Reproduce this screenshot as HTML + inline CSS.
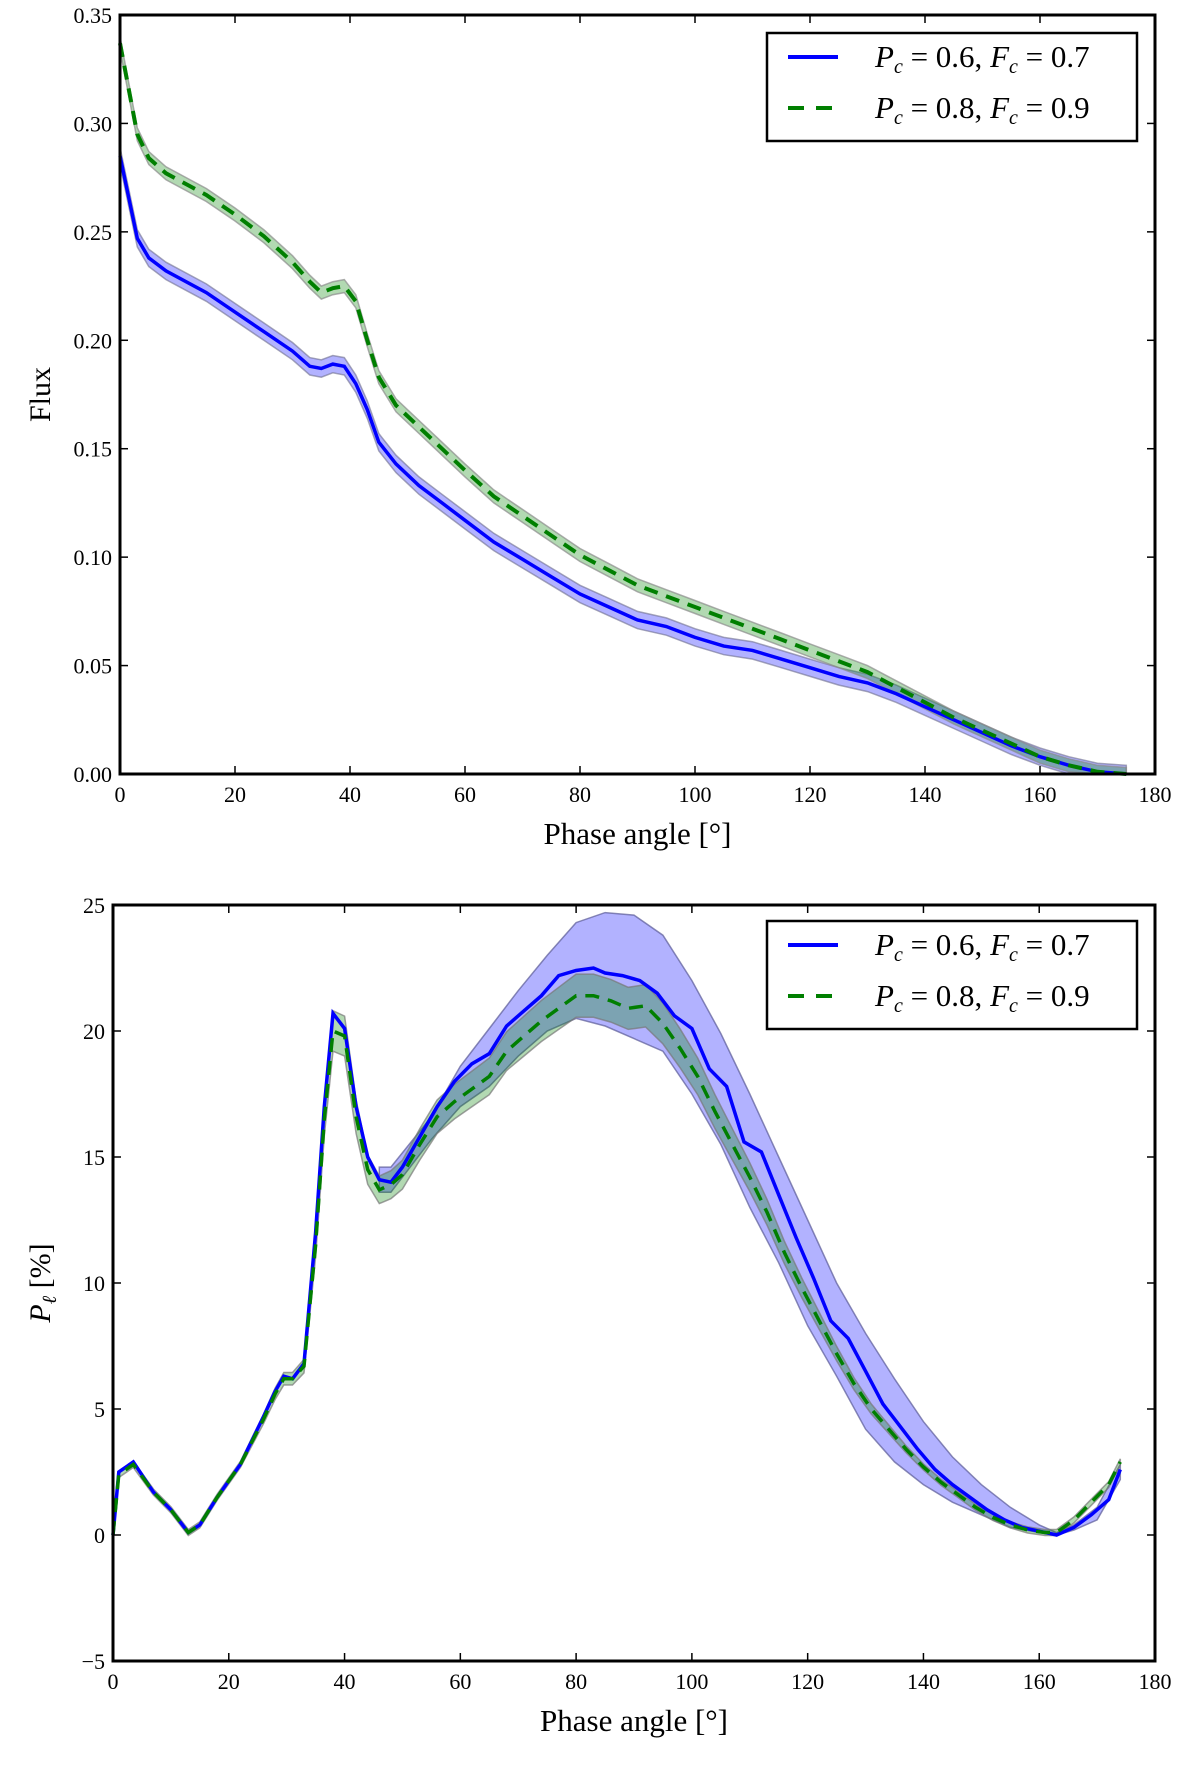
<!DOCTYPE html>
<html><head><meta charset="utf-8">
<style>
html,body{margin:0;padding:0;background:#fff;}
svg{display:block;font-family:"Liberation Serif",serif;}
</style></head>
<body>
<svg id="fig" width="1200" height="1767" viewBox="0 0 1200 1767" xmlns="http://www.w3.org/2000/svg"></svg>
<script>
// ---- Flux panel data ----
const fluxX = [0,3,5,8,15,20,25,30,33,35,37,39,41,43,45,48,52,56,60,65,70,75,80,85,90,95,100,105,110,115,120,125,130,135,140,145,150,155,160,165,170,175];
const fluxBlue = [0.285,0.247,0.238,0.232,0.222,0.213,0.204,0.195,0.188,0.187,0.189,0.188,0.180,0.168,0.153,0.143,0.133,0.125,0.117,0.107,0.099,0.091,0.083,0.077,0.071,0.068,0.063,0.059,0.057,0.053,0.049,0.045,0.042,0.037,0.031,0.025,0.019,0.013,0.008,0.004,0.001,0.0];
const fluxGreen = [0.337,0.295,0.284,0.277,0.267,0.258,0.248,0.236,0.227,0.222,0.224,0.225,0.218,0.200,0.183,0.170,0.160,0.150,0.140,0.128,0.119,0.110,0.101,0.094,0.087,0.082,0.077,0.072,0.067,0.062,0.057,0.052,0.047,0.040,0.033,0.026,0.020,0.014,0.008,0.004,0.001,0.0];
const fluxBlueErr = 0.004;
const fluxGreenErr = 0.003;
const fluxYTicks = [0,0.05,0.10,0.15,0.20,0.25,0.30,0.35];
const fluxYLabels = ["0.00","0.05","0.10","0.15","0.20","0.25","0.30","0.35"];
const xTicks = [0,20,40,60,80,100,120,140,160,180];

// ---- Polarization panel data ----
const polBlueX = [0,1,3.5,7,10,13,15,18,22,26,28,29.5,31,33,35,36.5,38,40,42,44,46,48,50,53,56,59,62,65,68,71,74,77,80,83,85,88,91,94,97,100,103,106,109,112,115,118,121,124,127,130,133,136,139,142,145,148,151,154,157,160,163,166,169,172,174];
const polBlue = [0,2.5,2.9,1.7,1.0,0.1,0.4,1.5,2.8,4.7,5.7,6.3,6.2,6.8,12,17,20.7,20.1,17,15,14.1,14.0,14.6,15.8,17,18,18.7,19.1,20.2,20.8,21.4,22.2,22.4,22.5,22.3,22.2,22.0,21.5,20.6,20.1,18.5,17.8,15.6,15.2,13.5,11.8,10.2,8.5,7.8,6.5,5.2,4.3,3.4,2.6,2.0,1.5,1.0,0.6,0.3,0.15,0.0,0.3,0.8,1.4,2.6];
const polGreenX = [0,1,3.5,7,10,13,15,18,22,26,28,29.5,31,33,35,36.5,38,40,42,44,46,48,50,53,56,59,62,65,68,71,74,77,80,83,86,89,92,95,98,101,104,107,110,113,116,119,122,125,128,131,134,137,140,143,146,149,152,155,158,161,163,166,169,172,174];
const polGreen = [0,2.4,2.8,1.7,1.0,0.1,0.4,1.5,2.8,4.6,5.6,6.2,6.2,6.7,11.5,16.5,20.0,19.8,16.6,14.5,13.7,13.9,14.3,15.5,16.6,17.2,17.7,18.2,19.2,19.8,20.4,20.9,21.4,21.4,21.2,20.9,21.0,20.3,19.3,18.2,16.8,15.5,14.2,12.8,11.2,9.8,8.5,7.2,6.0,5.0,4.2,3.4,2.7,2.1,1.6,1.1,0.7,0.4,0.2,0.1,0.1,0.6,1.3,2.0,2.9];
const polBandX = [46,48,55,60,65,70,75,80,85,90,95,100,105,110,115,120,125,130,135,140,145,150,155,160,163,166,170,174];
const polBlueUpper = [14.6,14.6,16.6,18.6,20.1,21.6,23.0,24.3,24.7,24.6,23.8,22.0,19.9,17.5,15.0,12.5,10.0,8.0,6.2,4.5,3.1,2.0,1.1,0.4,0.1,0.4,1.1,2.8];
const polBlueLower = [13.6,13.6,15.7,17.0,17.8,19.0,20.0,20.5,20.2,19.7,19.2,17.5,15.5,13.0,10.8,8.3,6.3,4.2,2.9,2.0,1.3,0.8,0.3,0.1,0.0,0.2,0.6,2.2];
const polGreenRelErr = 0.04;

const polYTicks = [-5,0,5,10,15,20,25];
const polYLabels = ["\u22125","0","5","10","15","20","25"];

const NS = "http://www.w3.org/2000/svg";
const svg = document.getElementById('fig');
function mk(tag, attrs, parent){
  const e = document.createElementNS(NS, tag);
  for (const k in attrs) e.setAttribute(k, attrs[k]);
  (parent||svg).appendChild(e);
  return e;
}
function pathFrom(xs, ys, sx, sy){
  return xs.map((x,i)=>(i?'L':'M')+sx(x).toFixed(1)+','+sy(ys[i]).toFixed(1)).join(' ');
}
function bandPath(xs, lo, hi, sx, sy){
  let d = xs.map((x,i)=>(i?'L':'M')+sx(x).toFixed(1)+','+sy(hi[i]).toFixed(1)).join(' ');
  for (let i=xs.length-1;i>=0;i--) d += ' L'+sx(xs[i]).toFixed(1)+','+sy(lo[i]).toFixed(1);
  return d+' Z';
}

function panel(cfg){
  const {L,R,T,B,ymin,ymax,yTicks,yLabels,ylabel,name} = cfg;
  const sx = v => L + (v-0)/(180-0)*(R-L);
  const sy = v => B - (v-ymin)/(ymax-ymin)*(B-T);
  const g = mk('g',{});
  
  
  cfg.draw(g, sx, sy);
  const fr = mk('rect',{x:L,y:T,width:R-L,height:B-T,fill:'none',stroke:'#000','stroke-width':3},g);
  
  
  xTicks.forEach(t=>{
    const x = sx(t);
    mk('line',{x1:x,y1:B,x2:x,y2:B-8,stroke:'#000','stroke-width':1.5},g);
    mk('line',{x1:x,y1:T,x2:x,y2:T+8,stroke:'#000','stroke-width':1.5},g);
    const tx = mk('text',{x:x,y:B+28,'font-size':22,'text-anchor':'middle'},g);
    tx.textContent = t;
    
    
  });
  yTicks.forEach((t,i)=>{
    const y = sy(t);
    mk('line',{x1:L,y1:y,x2:L+8,y2:y,stroke:'#000','stroke-width':1.5},g);
    mk('line',{x1:R,y1:y,x2:R-8,y2:y,stroke:'#000','stroke-width':1.5},g);
    const ty = mk('text',{x:L-8,y:y+8,'font-size':22,'text-anchor':'end'},g);
    ty.textContent = yLabels[i];
    
    
  });
  const xl = mk('text',{x:(L+R)/2,y:B+70,'font-size':31,'text-anchor':'middle'},g);
  xl.textContent = 'Phase angle [\u00b0]';
  
  
  const yl = mk('text',{x:0,y:0,'font-size':30,'text-anchor':'middle',transform:'translate('+(cfg.ylx)+','+((T+B)/2)+') rotate(-90)'},g);
  yl.innerHTML = ylabel;
  
  
  const lg = mk('g',{},g);
  
  
  const lx = cfg.legX, ly = cfg.legY;
  mk('rect',{x:lx,y:ly,width:370,height:108,fill:'#fff',stroke:'#000','stroke-width':2.5},lg);
  const rows = [
    {c:'#0000ff',dash:null,txt:['0.6','0.7']},
    {c:'#007f00',dash:'16,12',txt:['0.8','0.9']}
  ];
  rows.forEach((r,i)=>{
    const yy = ly+24+i*51;
    const ln = mk('line',{x1:lx+21,y1:yy,x2:lx+71,y2:yy,stroke:r.c,'stroke-width':4},lg);
    if (r.dash) ln.setAttribute('stroke-dasharray', r.dash);
    
    
    const t = mk('text',{x:lx+108,y:yy+10,'font-size':31},lg);
    t.innerHTML = '<tspan font-style="italic">P</tspan><tspan font-style="italic" font-size="20" dy="6">c</tspan><tspan dy="-6"> = '+r.txt[0]+', </tspan><tspan font-style="italic">F</tspan><tspan font-style="italic" font-size="20" dy="6">c</tspan><tspan dy="-6"> = '+r.txt[1]+'</tspan>';
    
    
  });
}

panel({name:'flux-panel',L:120,R:1155,T:15,B:774,ymin:0,ymax:0.35,yTicks:fluxYTicks,yLabels:fluxYLabels,
  ylabel:'Flux', ylx:50, legX:767, legY:33,
  draw:(g,sx,sy)=>{
    const bHi = fluxBlue.map(v=>v+fluxBlueErr), bLo = fluxBlue.map(v=>Math.max(0,v-fluxBlueErr));
    const gHi = fluxGreen.map(v=>v+fluxGreenErr), gLo = fluxGreen.map(v=>Math.max(0,v-fluxGreenErr));
    const b1 = mk('path',{d:bandPath(fluxX,bLo,bHi,sx,sy),fill:'rgba(0,0,255,0.3)',stroke:'rgba(110,110,140,0.6)','stroke-width':1.5},g);
    
    
    const b2 = mk('path',{d:bandPath(fluxX,gLo,gHi,sx,sy),fill:'rgba(0,128,0,0.3)',stroke:'rgba(140,140,140,0.7)','stroke-width':1.5},g);
    
    
    const l1 = mk('path',{d:pathFrom(fluxX,fluxBlue,sx,sy),fill:'none',stroke:'#0000ff','stroke-width':3.5},g);
    
    
    const l2 = mk('path',{d:pathFrom(fluxX,fluxGreen,sx,sy),fill:'none',stroke:'#007f00','stroke-width':4,'stroke-dasharray':'14,9'},g);
    
    
  }});

panel({name:'polarization-panel',L:113,R:1155,T:905,B:1661,ymin:-5,ymax:25,yTicks:polYTicks,yLabels:polYLabels,
  ylabel:'<tspan font-style="italic">P</tspan><tspan font-style="italic" font-size="20" dy="6">\u2113</tspan><tspan dy="-6"> [%]</tspan>', ylx:50, legX:767, legY:921,
  draw:(g,sx,sy)=>{
    const b1 = mk('path',{d:bandPath(polBandX,polBlueLower,polBlueUpper,sx,sy),fill:'rgba(0,0,255,0.3)',stroke:'rgba(90,90,150,0.7)','stroke-width':1.5},g);
    
    
    const gHi = polGreen.map((v,i)=>v+Math.max(0.12,v*polGreenRelErr));
    const gLo = polGreen.map((v,i)=>v-Math.max(0.12,v*polGreenRelErr));
    const b2 = mk('path',{d:bandPath(polGreenX,gLo,gHi,sx,sy),fill:'rgba(0,128,0,0.3)',stroke:'rgba(120,120,120,0.7)','stroke-width':1.5},g);
    
    
    const l1 = mk('path',{d:pathFrom(polBlueX,polBlue,sx,sy),fill:'none',stroke:'#0000ff','stroke-width':3.5},g);
    
    
    const l2 = mk('path',{d:pathFrom(polGreenX,polGreen,sx,sy),fill:'none',stroke:'#007f00','stroke-width':3.5,'stroke-dasharray':'14,9'},g);
    
    
  }});
</script>
</body></html>
